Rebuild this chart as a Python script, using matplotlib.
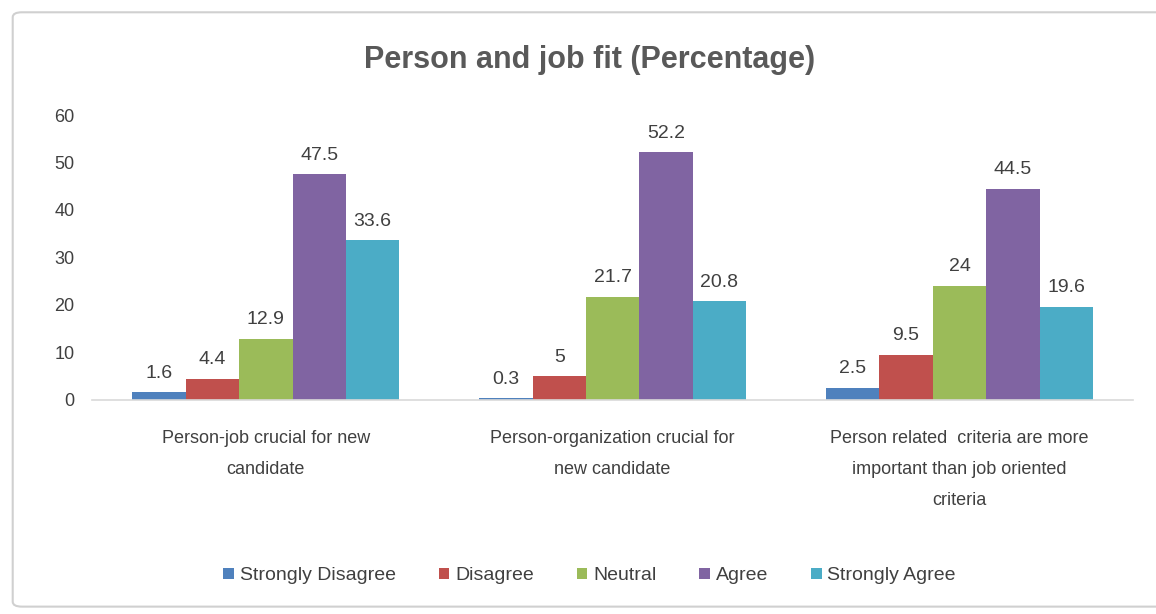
import matplotlib
matplotlib.use("Agg")
import matplotlib.pyplot as plt
from matplotlib.patches import FancyBboxPatch
import numpy as np

plt.rcParams['font.family'] = ['Liberation Sans', 'DejaVu Sans']

categories = [
    "Person-job crucial for new\ncandidate",
    "Person-organization crucial for\nnew candidate",
    "Person related  criteria are more\nimportant than job oriented\ncriteria",
]
series_names = ["Strongly Disagree", "Disagree", "Neutral", "Agree", "Strongly Agree"]
strongly_disagree = [1.6, 0.3, 2.5]
disagree = [4.4, 5, 9.5]
neutral = [12.9, 21.7, 24]
agree = [47.5, 52.2, 44.5]
strongly_agree = [33.6, 20.8, 19.6]
yticks = [0, 10, 20, 30, 40, 50, 60]

series_values = [strongly_disagree, disagree, neutral, agree, strongly_agree]
colors = ["#4F81BD", "#C0504D", "#9BBB59", "#8064A2", "#4BACC6"]
text_color = "#404040"

fig = plt.figure(figsize=(11.56, 6.14), dpi=100)
fig.patch.set_facecolor("white")

# outer chart frame
frame = FancyBboxPatch((0.011, 0.012), 1.2, 0.968, boxstyle="round,pad=0,rounding_size=0.008",
                       transform=fig.transFigure, facecolor="none", edgecolor="#D0D0D0",
                       linewidth=1.5, zorder=-5)
fig.patches.append(frame)

ax = fig.add_axes([0.080, 0.349, 0.900, 0.4637])
ax.set_facecolor("none")

x = np.arange(len(categories))
bar_w = 0.154
for i, (name, vals, col) in enumerate(zip(series_names, series_values, colors)):
    offs = (i - 2) * bar_w
    bars = ax.bar(x + offs, vals, width=bar_w, color=col, label=name, zorder=2)
    for b, v in zip(bars, vals):
        ax.text(b.get_x() + b.get_width() / 2, v + 2.2, f"{v:g}", ha="center", va="bottom",
                fontsize=14, color=text_color)

ax.set_xlim(-0.5, len(categories) - 0.5)
ax.set_ylim(0, 60)
ax.set_yticks(yticks)
ax.set_yticklabels([str(t) for t in yticks], fontsize=13, color=text_color)
ax.set_xticks(x)
ax.set_xticklabels(categories, fontsize=13, color=text_color, linespacing=2.05)
ax.tick_params(axis="both", length=0)
ax.tick_params(axis="y", pad=13)
ax.tick_params(axis="x", pad=22)
for s in ["top", "right", "left"]:
    ax.spines[s].set_visible(False)
ax.spines["bottom"].set_color("#D9D9D9")
ax.spines["bottom"].set_linewidth(1.2)

fig.text(0.51, 0.902, "Person and job fit (Percentage)", ha="center", va="center",
         fontsize=22, fontweight="bold", color="#595959")

leg = fig.legend(loc="center", bbox_to_anchor=(0.51, 0.062), ncol=5, frameon=False,
                 fontsize=14, handlelength=0.55, handleheight=0.55, handletextpad=0.3,
                 columnspacing=2.2)
for t in leg.get_texts():
    t.set_color(text_color)

fig.savefig("out.png", dpi=100, facecolor="white")
